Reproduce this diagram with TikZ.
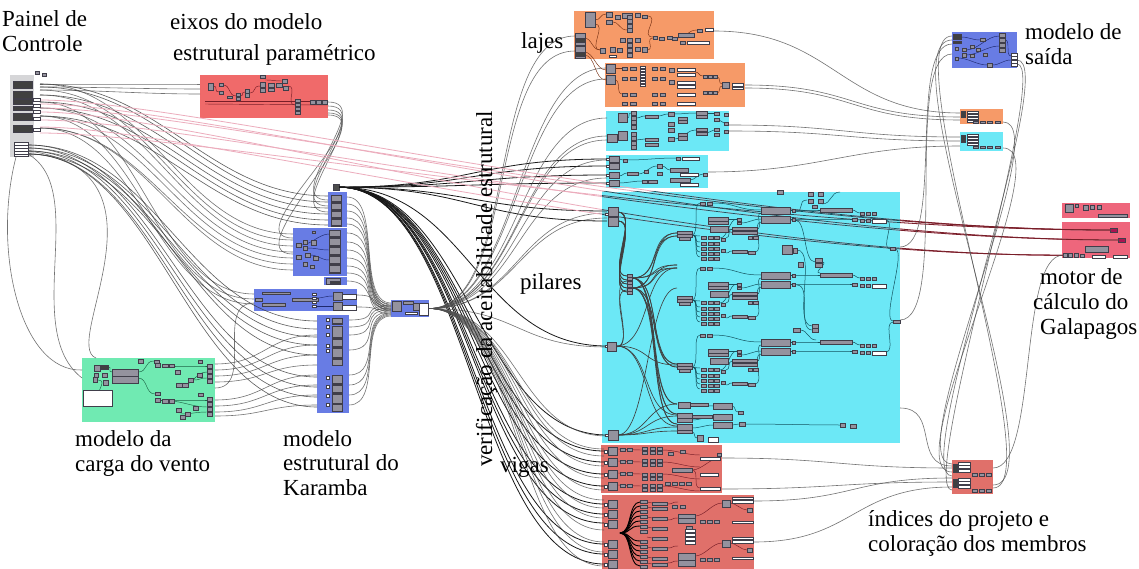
\documentclass[tikz,border=0pt]{standalone}
\usepackage{fontspec}
\setmainfont{Liberation Serif}
\usetikzlibrary{calc}

\definecolor{grpRed}{RGB}{240,106,106}
\definecolor{grpVig}{RGB}{224,112,106}
\definecolor{grpOrg}{RGB}{246,154,104}
\definecolor{grpCyan}{RGB}{108,232,246}
\definecolor{grpBlue}{RGB}{104,124,228}
\definecolor{grpGreen}{RGB}{112,234,178}
\definecolor{grpPink}{RGB}{238,102,124}
\definecolor{grpGray}{RGB}{214,214,216}
\definecolor{compFill}{RGB}{148,146,158}
\definecolor{compLine}{RGB}{64,62,74}
\definecolor{wireGray}{RGB}{80,80,80}
\definecolor{wirePink}{RGB}{236,172,188}
\definecolor{wireTeal}{RGB}{20,84,96}
\definecolor{wireRed}{RGB}{120,30,40}
\definecolor{wireGreen}{RGB}{30,100,70}
\definecolor{wireNavy}{RGB}{30,40,110}
\definecolor{wireBrown}{RGB}{120,50,20}
\definecolor{magBox}{RGB}{170,20,80}

\tikzset{
  grp/.style={draw=none,inner sep=0pt,outer sep=0pt,anchor=north west},
  comp/.style={fill=compFill,draw=compLine,line width=0.4pt},
  wcomp/.style={fill=white,draw=compLine,line width=0.4pt},
  dcomp/.style={fill=black!75,draw=compLine,line width=0.4pt},
  mcomp/.style={fill=magBox,draw=compLine,line width=0.4pt,inner sep=0pt,outer sep=0pt,anchor=north west},
  wire/.style={draw=wireGray,line width=0.6pt,draw opacity=0.8},
  dwire/.style={draw=black!90,line width=0.8pt},
  pwire/.style={draw=wirePink,line width=0.8pt},
  tealw/.style={draw=wireTeal,line width=0.5pt},
  feedw/.style={draw=black!75,line width=0.65pt},
  redw/.style={draw=wireRed,line width=0.45pt},
  grnw/.style={draw=wireGreen,line width=0.45pt},
  navw/.style={draw=wireNavy,line width=0.45pt},
  brnw/.style={draw=wireBrown,line width=0.45pt},
  lbl/.style={font=\fontsize{23}{25}\selectfont,inner sep=0pt,anchor=base west},
}
% a component box between two corners
\newcommand\cb[3][comp]{\path[#1] (#2) rectangle (#3);}
% a Grasshopper-like wire with horizontal tangents at both ends
\newcommand\gw[4][wire]{\draw[#1] (#2) .. controls +(#4,0) and +(-#4,0) .. (#3);}
% selected wires running from the control panel to the solver
\newcommand\selwires[1]{%
  \foreach \a/\t in {25/mgA,29/mgB,33/mgA,37/mgC,45/mgB,52/mgC,58/mgA}
    \draw[#1] ($(panel.north east)+(6,\a)$) .. controls +(150,0) and +(-400,0) .. (\t);}

\begin{document}
\begin{tikzpicture}[x=1pt,y=-1pt]
\useasboundingbox[fill=white] (0,0) rectangle (1139,569);

% ---------------- groups ----------------
\node[grp,fill=grpGray, minimum width=24, minimum height=82]  (panel) at (10,75) {};
\node[grp,fill=grpRed,  minimum width=128,minimum height=43]  (eixos) at (200,75) {};
\node[grp,fill=grpBlue, minimum width=19, minimum height=35]  (kA) at (328,192) {};
\node[grp,fill=grpBlue, minimum width=54, minimum height=48]  (kB) at (293,228) {};
\node[grp,fill=grpBlue, minimum width=23, minimum height=8]   (kC) at (324,277) {};
\node[grp,fill=grpBlue, minimum width=103,minimum height=22]  (kD) at (254,289) {};
\node[grp,fill=grpBlue, minimum width=32, minimum height=98]  (kE) at (317,315) {};
\node[grp,fill=grpBlue, minimum width=38, minimum height=17]  (ctr) at (391,300) {};
\node[grp,fill=grpGreen,minimum width=133,minimum height=64]  (wind) at (82,358) {};
\node[grp,fill=grpOrg,  minimum width=140,minimum height=48]  (laj1) at (574,11) {};
\node[grp,fill=grpOrg,  minimum width=140,minimum height=44]  (laj2) at (605,63) {};
\node[grp,fill=grpCyan, minimum width=123,minimum height=40]  (cy1) at (606,111) {};
\node[grp,fill=grpCyan, minimum width=102,minimum height=33]  (cy2) at (606,155) {};
\node[grp,fill=grpCyan, minimum width=298,minimum height=251] (pil) at (602,192) {};
\node[grp,fill=grpVig,  minimum width=121,minimum height=48]  (vig1) at (601,445) {};
\node[grp,fill=grpVig,  minimum width=152,minimum height=74]  (vig2) at (602,495) {};
\node[grp,fill=grpBlue, minimum width=65, minimum height=36]  (out) at (952,32) {};
\node[grp,fill=grpOrg,  minimum width=43, minimum height=15]  (os) at (960,109) {};
\node[grp,fill=grpCyan, minimum width=43, minimum height=19]  (cs) at (960,132) {};
\node[grp,fill=grpPink, minimum width=68, minimum height=15]  (mt1) at (1062,203) {};
\node[grp,fill=grpPink, minimum width=68, minimum height=36]  (mt2) at (1062,222) {};
\node[grp,fill=grpVig,  minimum width=41, minimum height=34]  (idx) at (952,460) {};

% solver inputs and the structural source component
\node[mcomp,minimum width=7,minimum height=4] (mgA) at (1110,228) {};
\node[mcomp,minimum width=7,minimum height=4] (mgB) at (1118,238) {};
\node[comp,inner sep=0pt,minimum width=4,minimum height=4,anchor=north west] (mgC) at (1063,253) {};
\node[comp,fill=black!70,inner sep=0pt,minimum width=6,minimum height=6,anchor=north west] (k0) at (333,184) {};

% ---------------- wires between groups ----------------
% control panel -> axes
\foreach \a/\b in {9/9,12/14,15/19}
  \gw{$(panel.north east)+(6,\a)$}{$(eixos.north west)+(0,\b)$}{60};
% control panel -> Karamba model
\foreach \a/\b in {9/4,12/10,20/16,27/22,33/28,41/33}
  \gw[wire,draw=black!80]{$(panel.north east)+(6,\a)$}{$(kA.north west)+(0,\b)$}{120};
\foreach \a/\b in {9/6,15/12,20/18,33/24,41/30,53/36,53/42}
  \gw{$(panel.north east)+(6,\a)$}{$(kB.north west)+(0,\b)$}{110};
\foreach \a/\b in {27/5,41/10,53/15}
  \gw{$(panel.north east)+(6,\a)$}{$(kD.north west)+(0,\b)$}{100};
\foreach \a/\b in {70/6,73/14,76/22,79/30,70/40,73/62,76/72,79/82,79/92}
  \gw[wire,draw=black!80]{$(panel.north west)+(18,\a)$}{$(kE.north west)+(0,\b)$}{130};
% control panel -> wind load model
\draw[wire] ($(panel.south west)+(6,0)$) .. controls (-8,250) and (20,372) .. ($(wind.north west)+(0,12)$);
\draw[wire] ($(panel.north west)+(18,79)$) .. controls (90,190) and (20,330) .. ($(wind.north west)+(0,20)$);
\draw[wire] ($(panel.north west)+(18,76)$) .. controls (180,170) and (60,345) .. ($(wind.north west)+(14,0)$);
% axes -> Karamba
\foreach \a/\b in {27/8,31/14,35/20}
  \gw{$(eixos.north east)+(0,\a)$}{$(kA.north west)+(0,\b)$}{50};
\foreach \a/\b in {38/10,40/26}
  \gw{$(eixos.north east)+(0,\a)$}{$(kB.north west)+(0,\b)$}{60};
% wind load -> Karamba
\foreach \a/\b in {6/20,12/30,18/40,24/50,42/60,48/70,54/80,58/90}
  \gw{$(wind.north east)+(0,\a)$}{$(kE.north west)+(0,\b)$}{50};
\gw{$(wind.north east)+(0,30)$}{$(kD.north west)+(0,14)$}{40};
% Karamba parts -> assembly
\foreach \a/\b in {5/3,12/5,19/7,26/9,32/11}
  \gw{$(kA.north east)+(0,\a)$}{$(ctr.north west)+(0,\b)$}{35};
\foreach \a/\b in {5/4,14/6,22/8,30/10,38/12,45/14}
  \gw{$(kB.north east)+(0,\a)$}{$(ctr.north west)+(0,\b)$}{35};
\gw{kC.east}{$(ctr.north west)+(0,9)$}{30};
\foreach \a/\b in {6/6,18/10}
  \gw{$(kD.north east)+(0,\a)$}{$(ctr.north west)+(0,\b)$}{25};
\foreach \a/\b in {5/6,12/8,20/10,35/12,60/13,70/14,80/15,90/16}
  \gw{$(kE.north east)+(0,\a)$}{$(ctr.north west)+(0,\b)$}{35};
% structural model -> checks (heavy bundle)
\foreach \t in {{607,211},{607,221},{607,346},{607,435},{604,451},{604,462},{604,474},{604,486},{604,504},{604,514},{604,523},{604,544},{604,554},{604,564},{607,159},{607,166},{607,175},{607,183}}
  \gw[dwire]{k0.east}{\t}{130};
% assembly -> checks (fan)
\foreach \t in {{575,36},{575,51},{606,68},{606,79},{607,118},{607,136},{607,140},{607,160},{607,178},{607,213},{607,218},{607,347},{607,436},{604,449},{604,456},{604,466},{604,478},{604,490},{604,500},{604,508},{604,518},{604,530},{604,542},{604,552},{604,566}}
  \gw{$(ctr.east)+(0,0)$}{\t}{90};
% selected wires, drawn over the white canvas, the column group and the solver side
\selwires{pwire}
\begin{scope}
  \clip (pil.north west) rectangle (pil.south east);
  \selwires{draw=wireTeal,line width=0.7pt}
\end{scope}
\begin{scope}
  \clip (900,0) rectangle (1139,569);
  \selwires{draw=wireRed,line width=0.8pt}
\end{scope}
% checks -> output groups
\gw{$(laj1.north east)+(0,20)$}{$(os.north west)+(0,4)$}{120};
\gw{$(laj2.north east)+(0,22)$}{$(os.north west)+(0,8)$}{110};
\gw{$(laj2.north east)+(0,25)$}{$(os.north west)+(0,11)$}{110};
\gw{$(cy1.north east)+(0,14)$}{$(cs.north west)+(0,5)$}{110};
\gw{$(cy1.north east)+(0,20)$}{$(cs.north west)+(0,9)$}{110};
\gw{$(cy2.north east)+(0,17)$}{$(cs.north west)+(0,14)$}{110};
\gw{$(pil.north east)+(0,55)$}{$(out.north west)+(0,12)$}{45};
\gw{$(pil.north east)+(0,128)$}{$(out.north west)+(0,22)$}{50};
\gw{$(pil.north east)+(0,216)$}{$(idx.north west)+(0,6)$}{40};
\gw{$(vig1.north east)+(0,13)$}{$(idx.north west)+(0,8)$}{110};
\gw{$(vig1.north east)+(0,44)$}{$(idx.north west)+(0,22)$}{110};
\gw{$(vig2.north east)+(0,6)$}{$(idx.north west)+(0,18)$}{100};
\gw{$(vig2.north east)+(0,47)$}{$(idx.north west)+(0,27)$}{100};
% output groups, indices and solver
\gw{$(os.north east)+(0,13)$}{$(idx.north west)+(0,4)$}{55};
\gw{$(cs.north east)+(0,16)$}{$(idx.north west)+(0,12)$}{60};
\gw{$(out.north east)+(0,28)$}{$(idx.north west)+(0,16)$}{45};
\gw{$(out.north east)+(0,32)$}{$(idx.north west)+(0,30)$}{35};
\gw{$(idx.north east)+(0,8)$}{mgC.west}{45};
\gw{$(idx.north east)+(0,25)$}{$(out.north west)+(0,8)$}{70};
\gw{$(idx.north east)+(0,28)$}{$(out.north west)+(0,4)$}{60};

% ---------------- control panel ----------------
\foreach \y/\h in {81/7,91/7,99/5,106/4,113/7,125/7} \cb[dcomp]{13,\y}{32,\y+\h};
\foreach \y in {98,104,110,117,128} \cb[wcomp]{33,\y}{40,\y+3};
\cb[wcomp]{14,142}{28,156};
\foreach \y in {145,148,151,154} \draw[compLine,line width=0.4pt] (14,\y) -- (28,\y);
\cb{35,71}{39,74}; \cb{42,73}{46,76};

% ---------------- axes ----------------
\draw[redw] (205,101) -- (328,101); \draw[redw] (205,104) -- (328,105);
\gw[redw]{213,86}{219,92}{6}; \gw[redw]{223,85}{236,96}{8}; \gw[redw]{249,93}{260,86}{8};
\gw[redw]{265,80}{282,81}{10}; \gw[redw]{288,86}{295,105}{10}; \gw[redw]{240,96}{245,92}{5};
\cb{208,83}{213,90}; \cb{219,83}{223,86}; \cb{219,91}{223,94}; \cb{227,96}{232,98};
\cb{236,93}{240,96}; \cb{236,97}{240,100}; \cb{245,89}{249,93}; \cb{245,93}{249,97};
\cb{260,75}{265,78}; \cb{260,82}{265,87}; \cb{260,88}{265,92}; \cb{268,83}{274,87};
\cb{276,83}{282,87}; \cb{283,86}{288,90}; \cb{282,79}{287,83}; \cb{268,88}{274,91};
\foreach \y in {99,103,107,111} \cb{295,\y}{300,\y+3.5};
\foreach \x in {310,316,322} \cb{\x,100}{\x+5,104};

% ---------------- Karamba model ----------------
\foreach \y in {195,203,211,219} {\cb{331,\y}{341,\y+7}; \cb[dcomp]{331,\y+6}{341,\y+7.5};}
\foreach \y in {230,238,247,256,265} \cb{329,\y}{340,\y+8};
\foreach \y in {236,245,254,263,272} \cb[dcomp]{329,\y}{340,\y+1.6};
\gw[navw]{301,245}{329,234}{10}; \gw[navw]{307,248}{329,250}{10}; \gw[navw]{310,255}{329,260}{8};
\cb{296,243}{301,247}; \cb{303,240}{307,244}; \cb{311,240}{316,245}; \cb{303,246}{307,250};
\cb{296,255}{301,259}; \cb{305,253}{310,257}; \cb{313,256}{318,260}; \cb{303,262}{307,266};
\cb{310,265}{314,268}; \cb{312,231}{315,233};
\cb{326,278}{340,284}; \cb[dcomp]{330,281}{340,283};
\cb{262,292}{290,294}; \cb{262,303}{285,306}; \cb{255,298}{262,301}; \cb{292,298}{318,301};
\foreach \y in {293,297,301,305} \cb[wcomp]{312,\y}{316,\y+2.5};
\gw[navw]{316,298}{333,296}{8}; \gw[navw]{316,306}{333,306}{8};
\cb{333,292}{342,300}; \cb{333,302}{342,310};
\cb[wcomp]{342,294}{356,299}; \cb[wcomp]{342,305}{356,310};
\foreach \y/\h in {318/6,326/12,339/8,348/10,359/6,375/9,385/8,394/9,404/7} \cb{332,\y}{342,\y+\h};
\foreach \y in {323,337,346,357,383,392} \cb[dcomp]{332,\y}{342,\y+1.6};
\foreach \y in {318,325,333,344,349,376,385,394,403} \cb[wcomp]{326,\y}{329,\y+3};
\cb{392,301}{401,311}; \cb{403,301}{413,304}; \cb{413,303}{419,310};
\cb[wcomp]{405,312}{417,314}; \cb[wcomp]{419,303}{428,315};

% ---------------- wind load ----------------
\gw[grnw]{108,367}{112,372}{5}; \gw[grnw]{138,372}{154,361}{10}; \gw[grnw]{138,378}{155,394}{10};
\gw[grnw]{174,366}{207,366}{15}; \gw[grnw]{182,385}{207,372}{12}; \gw[grnw]{193,380}{207,378}{8};
\gw[grnw]{160,400}{207,400}{20}; \gw[grnw]{168,401}{207,407}{15}; \gw[grnw]{180,414}{207,412}{12};
\gw[grnw]{98,380}{102,398}{12};
\cb[wcomp]{83,390}{112,406};
\cb{112,369}{138,376}; \cb{112,376}{138,383};
\cb{94,365}{100,371}; \cb[dcomp]{100,365}{108,369}; \cb{94,373}{98,377}; \cb{102,373}{107,377};
\cb{93,377}{97,382}; \cb{103,380}{108,385};
\cb{138,359}{143,363}; \cb{154,360}{159,363}; \cb{155,363}{160,367}; \cb{162,364}{168,367};
\cb{169,364}{174,367}; \cb{198,360}{202,363};
\foreach \y in {364,369,374,379} \cb{207,\y}{212,\y+4};
\foreach \y in {397,402,407,412} \cb{207,\y}{212,\y+4};
\cb{175,370}{180,374}; \cb{176,383}{182,387}; \cb{182,383}{188,387}; \cb{188,378}{193,382};
\cb{197,373}{202,377}; \cb{155,392}{160,395}; \cb{198,393}{203,396};
\cb{155,398}{160,402}; \cb{162,399}{168,403}; \cb{169,399}{174,403};
\cb{176,408}{181,412}; \cb{185,412}{190,416}; \cb{193,406}{198,410}; \cb{180,415}{185,419};

% ---------------- slabs ----------------
\gw[brnw]{584,38}{600,50}{8}; \gw[brnw]{595,20}{606,14}{6}; \gw[brnw]{595,24}{600,50}{12};
\gw[brnw]{612,22}{627,30}{8}; \gw[brnw]{647,16}{653,37}{14}; \gw[brnw]{647,50}{653,38}{8};
\gw[brnw]{677,38}{697,30}{10}; \gw[brnw]{584,52}{606,70}{10}; \gw[brnw]{584,55}{606,80}{12};
\cb{585,12}{595,27};
\cb{575,33}{585,45}; \cb[dcomp]{575,38}{585,42}; \cb{575,46}{585,58}; \cb[dcomp]{575,52}{585,56};
\cb{606,12}{612,17}; \cb{606,20}{612,24}; \cb{615,15}{620,19}; \cb{622,13}{632,18};
\foreach \y in {15,19.5,24,28.5} \cb{627,\y}{632,\y+4};
\cb{635,13}{640,17}; \cb{642,15}{647,18};
\cb{600,48}{605,53}; \cb{610,47}{615,52}; \cb{617,48}{622,52}; \cb[wcomp]{609,55}{616,57};
\foreach \y in {38,43,48,53} \cb{627,\y}{632,\y+4};
\cb{620,38}{625,42}; \cb{635,38}{640,42}; \cb{635,47}{640,51}; \cb{642,47}{647,52};
\cb{653,36}{657,39}; \cb{659,37}{664,40}; \cb{667,36}{672,39}; \cb{672,37}{677,40};
\cb{678,33}{694,37}; \cb{680,41}{685,44}; \cb[wcomp]{687,41}{709,44}; \cb{697,29}{702,32};
\cb[wcomp]{705,28}{713,31};
\cb{606,64}{615,73}; \cb{606,75}{615,84};
\foreach \y in {67,77,93,102} {\cb{622,\y}{627,\y+3}; \cb{630,\y}{636,\y+3}; \cb{652,\y}{657,\y+3}; \cb{660,\y}{665,\y+3};}
\foreach \y in {66,69,72,75,78,81,84} \cb[wcomp]{640,\y}{645,\y+2.5};
\foreach \y in {68,73,81,85,93,102} \cb[wcomp]{677,\y}{695,\y+3.5};
\foreach \y in {68,80} {\cb{669,\y}{674,\y+4};}
\cb{722,82}{729,88}; \cb[wcomp]{732,83}{743,86}; \cb[wcomp]{732,87}{743,89};
\foreach \x in {703,708,713} {\cb{\x,75}{\x+4,78}; \cb{\x,91}{\x+4,94};}
\gw[brnw]{615,68}{622,68}{4}; \gw[brnw]{615,80}{622,94}{6}; \gw[brnw]{695,72}{703,76}{5};
\gw[brnw]{717,77}{722,84}{4}; \gw[brnw]{717,93}{722,86}{4};

% ---------------- columns: cyan panels ----------------
\gw[tealw]{627,118}{631,113}{4}; \gw[tealw]{636,118}{645,116}{5}; \gw[tealw]{658,116}{668,114}{5};
\gw[tealw]{674,114}{696,113}{10}; \gw[tealw]{707,113}{714,113}{3}; \gw[tealw]{674,139}{696,130}{10};
\gw[tealw]{707,133}{714,130}{3}; \gw[tealw]{636,140}{645,139}{5}; \gw[tealw]{719,120}{724,123}{3};
\cb{618,113}{627,122}; \cb{618,131}{627,140}; \cb{607,134}{617,142};
\foreach \y in {111.5,116,120.5,125} \cb{631,\y}{636,\y+4};
\foreach \y in {132,136.5,141,145.5} \cb{631,\y}{636,\y+4};
\cb{645,115}{658,118}; \cb{645,138}{658,141}; \cb{645,143}{658,146};
\foreach \y in {112,122,128,137} \cb{668,\y}{674,\y+4};
\cb{678,117}{687,120}; \cb{678,120}{687,123}; \cb{678,133}{687,136}; \cb{678,136}{687,140};
\cb{696,111}{707,115}; \cb{696,115}{707,118}; \cb{696,128}{707,131}; \cb{696,132}{707,135};
\foreach \y in {112,118,128,133} \cb{714,\y}{719,\y+3};
\foreach \y in {113,122,130} \cb{724,\y}{728,\y+3};
\gw[tealw]{619,159}{623,160}{3}; \gw[tealw]{627,160}{676,158}{20}; \gw[tealw]{619,176}{627,173}{4};
\gw[tealw]{638,174}{657,166}{8}; \gw[tealw]{662,166}{670,170}{4}; \gw[tealw]{690,180}{703,174}{5};
\gw[tealw]{619,183}{642,181}{8};
\foreach \y in {156,163,172,180} {\cb{609,\y}{619,\y+6.5}; \cb[wcomp]{606.5,\y+2}{609,\y+4};}
\cb{623,159}{627,162}; \cb{627,172}{638,175}; \cb{644,170}{648,173}; \cb{648,180}{657,183};
\cb{642,180}{647,183}; \cb{657,164}{662,168}; \cb{657,172}{662,175};
\cb{676,157}{680,160}; \cb[wcomp]{682,157}{699,160};
\cb{670,168}{688,172}; \cb[wcomp]{680,173}{698,176}; \cb{670,178}{690,182}; \cb[wcomp]{680,183}{698,186};
\cb{703,173}{707,176};

% ---------------- columns: main group ----------------
% feeding network on the left
\foreach \b in {276,280,284,288,292} {\gw[feedw]{618,212}{627,\b}{22}; \gw[feedw]{618,221}{627,\b}{22};}
\foreach \b in {233,236,265,268,364,367,404,414,424} {\gw[feedw]{632,278}{677,\b}{30}; \gw[feedw]{632,288}{677,\b}{30};}
\foreach \b in {268,365,415,426} \gw[feedw]{616,346}{677,\b}{35};
\foreach \b in {404,416,427,431,288} \gw[feedw]{618,435}{677,\b}{30};
\foreach \b in {281,290} \gw[feedw]{616,347}{627,\b}{20};
\cb{608,207}{618,216}; \cb{608,217}{618,226}; \cb{607,342}{616,351}; \cb{608,430}{618,440};
\cb[wcomp]{605,213}{608,215}; \cb[wcomp]{605,345}{607,347}; \cb[wcomp]{605,434}{608,436};
\foreach \y in {274,277.5,281,284.5,288,291.5} \cb{627,\y}{632,\y+3};
% three repeated check blocks
\foreach \oy in {0,65,132} {
  \begin{scope}[shift={(0,\oy)}]
    \foreach \y in {203,236,242,247,252,257} \gw[tealw]{692,235}{700,\y}{8};
    \gw[tealw]{712,203}{761,210}{25}; \gw[tealw]{728,219}{737,219}{4}; \gw[tealw]{741,223}{761,219}{8};
    \gw[tealw]{757,229}{761,213}{6}; \gw[tealw]{790,210}{820,210}{12}; \gw[tealw]{790,219}{852,219}{20};
    \gw[tealw]{852,210}{860,213}{4}; \gw[tealw]{726,238}{732,229}{5}; \gw[tealw]{726,253}{732,251}{4};
    \gw[tealw]{720,238}{737,219}{8}; \gw[tealw]{755,252}{761,222}{10};
    \cb{700,202}{705,205}; \cb{707,202}{712,205};
    \cb{677,231}{692,234}; \cb{677,234}{692,237}; \cb{679,237}{690,240};
    \cb{708,217}{728,221}; \cb{708,221}{728,224}; \cb{710,226}{728,232};
    \cb{737,218}{741,221}; \cb{737,222}{741,224};
    \cb{732,227}{757,230}; \cb{732,231}{757,234}; \cb{748,236}{752,239}; \cb{753,236}{758,239};
    \cb{761,207}{790,214}; \cb{761,216}{790,223};
    \cb{792,209}{795,212}; \cb{792,218}{795,221};
    \cb{820,208}{852,212};
    \foreach \x in {860,866,872} \cb{\x,212}{\x+4,215};
    \cb{852,218}{857,221}; \cb{860,219}{864,222}; \cb{866,219}{870,222}; \cb[wcomp]{872,219}{886,223};
    \foreach \y in {236,242,247,252,257} \foreach \x in {701,708,714} \cb{\x,\y}{\x+5,\y+3};
    \cb{721,238}{725,241}; \cb{721,249}{725,252};
    \cb{732,250}{747,253}; \cb{748,251}{755,254};
  \end{scope}
}
% links between the blocks and on the right edge
\gw[tealw]{797,250}{812,326}{20}; \gw[tealw]{795,212}{807,200}{10}; \gw[tealw]{795,220}{815,262}{12};
\gw[tealw]{797,285}{812,330}{15}; \gw[tealw]{800,330}{816,340}{8}; \gw[tealw]{822,262}{820,273}{8};
\gw[tealw]{886,220}{890,249}{10}; \gw[tealw]{895,249}{893,321}{12}; \gw[tealw]{886,352}{893,322}{10};
\gw[tealw]{822,204}{840,192}{10};
\cb{808,192}{813,196}; \cb{818,192}{823,196}; \cb{808,199}{813,203}; \cb{818,199}{823,203}; \cb{812,205}{817,208};
\cb{782,245}{792,254}; \cb{793,248}{797,253}; \cb{798,262}{803,267}; \cb{815,258}{822,262}; \cb{815,263}{822,267};
\cb{793,328}{800,332}; \cb{812,324}{818,328}; \cb{812,328}{818,332};
\cb{777,190}{783,194}; \cb{890,247}{895,250}; \cb{893,320}{900,323};
% bottom cluster
\gw[tealw]{692,405}{713,406}{8}; \gw[tealw]{692,420}{713,417}{8}; \gw[tealw]{692,428}{713,425}{8};
\gw[tealw]{732,406}{738,412}{4}; \gw[tealw]{732,425}{739,424}{4}; \gw[tealw]{745,424}{840,425}{30};
\gw[tealw]{692,432}{697,438}{4};
\cb{678,402}{690,408}; \cb{690,403}{708,406}; \cb{677,413}{692,418}; \cb{677,418}{692,422};
\cb{677,424}{692,430}; \cb{677,430}{692,433}; \cb{692,415}{712,418};
\cb{713,403}{732,409}; \cb{713,414}{732,420}; \cb{713,422}{732,428};
\cb{738,411}{743,414}; \cb{739,422}{745,426}; \cb{697,435}{703,441}; \cb[wcomp]{708,437}{718,442};
\cb{840,423}{845,427}; \cb{850,424}{856,428};

% ---------------- beams ----------------
\foreach \y in {449,461,473,485} {\gw[redw]{617,\y}{642,\y+1}{10}; \gw[redw]{662,\y+1}{700,\y+6}{15};}
\gw[redw]{692,470}{720,458}{10}; \gw[redw]{692,470}{700,488}{8};
\foreach \y in {447,458,470,482} {\cb{608,\y}{617,\y+8}; \cb[wcomp]{604,\y+3}{607,\y+6};}
\foreach \y in {448,460,472,484} \foreach \x in {620,627} \cb{\x,\y}{\x+5,\y+3};
\foreach \y in {447,451,459,463,473,477,484,488} \foreach \x in {642,650,657} \cb{\x,\y}{\x+5,\y+3};
\cb{672,468}{692,472}; \cb[wcomp]{700,457}{720,460}; \cb[wcomp]{700,473}{718,476}; \cb[wcomp]{700,487}{720,490};
\cb{717,453}{721,456}; \foreach \x in {665,672,679,686} \cb{\x,482}{\x+5,485};
\cb{668,452}{673,455}; \cb{680,450}{685,453};
% second beam group
\foreach \b in {502,506,511,516,521,526} \draw[black,line width=0.9pt] (620,533) .. controls (632,533) and (628,\b) .. (640,\b);
\foreach \b in {541,546,551,556,561,566} \draw[black,line width=0.9pt] (620,533) .. controls (632,533) and (628,\b) .. (640,\b);
\foreach \y in {502,507,517,527,537,547,557,563} \gw[redw]{647,\y}{652,\y+1}{3};
\foreach \y in {504,520,548,563} \gw[redw]{667,\y}{678,\y-2}{8};
\gw[redw]{695,516}{722,503}{10}; \gw[redw]{695,556}{722,543}{10}; \gw[redw]{730,503}{747,510}{6};
\gw[redw]{730,543}{747,550}{6};
\foreach \y in {500,510,520,540,550,560} {\cb{608,\y}{617,\y+8}; \cb[wcomp]{604,\y+3}{607,\y+6};}
\foreach \y in {500,505,510,515,520,525,530,540,545,550,555,560,565} \cb{640,\y}{647,\y+3.5};
\foreach \y in {502,507,517,527,537,547,557,563} \cb{652,\y}{667,\y+3};
\cb{678,514}{695,518}; \cb{678,518}{695,523}; \cb{678,553}{695,560}; \cb{678,560}{695,566};
\foreach \y in {529,533,537,541} \cb[wcomp]{685,\y}{695,\y+3};
\cb{722,500}{730,507}; \cb{722,540}{730,547};
\foreach \y in {497,500.5,521,537,540.5,557} \cb[wcomp]{732,\y}{753,\y+2.6};
\cb{747,508}{752,512}; \cb{747,548}{752,552};
\foreach \x in {700,707,714} {\cb{\x,520}{\x+5,523}; \cb{\x,558}{\x+5,561};}
\cb{672,505}{677,508}; \cb{680,505}{685,508}; \cb{686,526}{692,529};

% ---------------- output model, colour outputs, indices ----------------
\gw[navw]{961,37}{980,40}{8}; \gw[navw]{966,50}{999,36}{12}; \gw[navw]{966,55}{999,46}{12};
\gw[navw]{992,65}{1011,60}{8}; \gw[navw]{1005,40}{1011,56}{6}; \gw[navw]{958,58}{987,65}{10};
\cb[dcomp]{953,34}{961,39}; \cb[dcomp]{953,41}{961,43};
\cb{955,47}{958,50}; \cb{955,57}{958,60}; \cb{962,48}{966,51}; \cb{962,53}{966,57};
\cb{970,45}{974,48}; \cb{970,54}{974,57}; \cb{976,48}{980,51}; \cb{980,38}{985,41};
\cb{983,53}{987,56}; \cb{987,63}{992,67};
\foreach \y in {33,38,43,48} \cb{999,\y}{1005,\y+4};
\foreach \y in {53,56.5,60,63.5} \cb[wcomp]{1011,\y}{1017,\y+3};
\cb[dcomp]{961,111}{965,117}; \foreach \y in {111,114,117,120} \cb[wcomp]{967,\y}{978,\y+2.5};
\foreach \x in {973,980,987,995} \cb{\x,121}{\x+5,123.5};
\cb[dcomp]{961,135}{965,142}; \foreach \y in {134,137,140,143} \cb[wcomp]{967,\y}{978,\y+2.5};
\foreach \x in {973,980,987,995} \cb{\x,146}{\x+5,148.5};
\cb[dcomp]{953,464}{957,472}; \cb[dcomp]{953,479}{957,487};
\foreach \y in {462,465.5,469} \cb[wcomp]{958,\y}{970,\y+3};
\foreach \y in {478,481.5,485} \cb[wcomp]{958,\y}{970,\y+3};
\foreach \x in {972,979,986} {\cb{\x,473}{\x+5,476}; \cb{\x,489}{\x+5,492};}

% ---------------- solver ----------------
\cb{1065,204}{1073,212}; \cb{1075,204}{1078,207}; \cb{1083,205}{1088,210}; \cb{1090,205}{1094,209};
\cb{1097,205}{1101,209}; \cb{1098,214}{1127,217};
\cb{1085,246}{1108,252}; \cb[wcomp]{1092,255}{1105,258}; \cb[wcomp]{1113,255}{1127,258};
\cb{1068,253}{1072,257}; \cb{1074,253}{1078,257}; \cb{1080,254}{1084,257};

% ---------------- labels ----------------
\node[lbl] (tPainelA) at (2,27) {Painel de};
\node[lbl] (tPainelB) at (2,52) {Controle};
\node[lbl] (tEixosA) at (170,30) {eixos do modelo};
\node[lbl] (tEixosB) at (173,61) {estrutural paramétrico};
\node[lbl] (tLajes) at (521,49) {lajes};
\node[lbl] (tSaidaA) at (1025,40) {modelo de};
\node[lbl] (tSaidaB) at (1025,65) {saída};
\node[lbl] (tPilares) at (520,289) {pilares};
\node[lbl] (tMotorA) at (1040,284) {motor de};
\node[lbl] (tMotorB) at (1033,309) {cálculo do};
\node[lbl] (tMotorC) at (1040,334) {Galapagos};
\node[lbl] (tVentoA) at (75,446) {modelo da};
\node[lbl] (tVentoB) at (75,471) {carga do vento};
\node[lbl] (tKarA) at (283,446) {modelo};
\node[lbl] (tKarB) at (283,470) {estrutural do};
\node[lbl] (tKarC) at (283,495) {Karamba};
\node[lbl] (tVigas) at (500,472) {vigas};
\node[lbl] (tIdxA) at (868,526) {índices do projeto e};
\node[lbl] (tIdxB) at (868,551) {coloração dos membros};
\node[lbl,rotate=90] (tVerif) at (492,467) {verificação da aceitabilidade estrutural};
\end{tikzpicture}
\end{document}
